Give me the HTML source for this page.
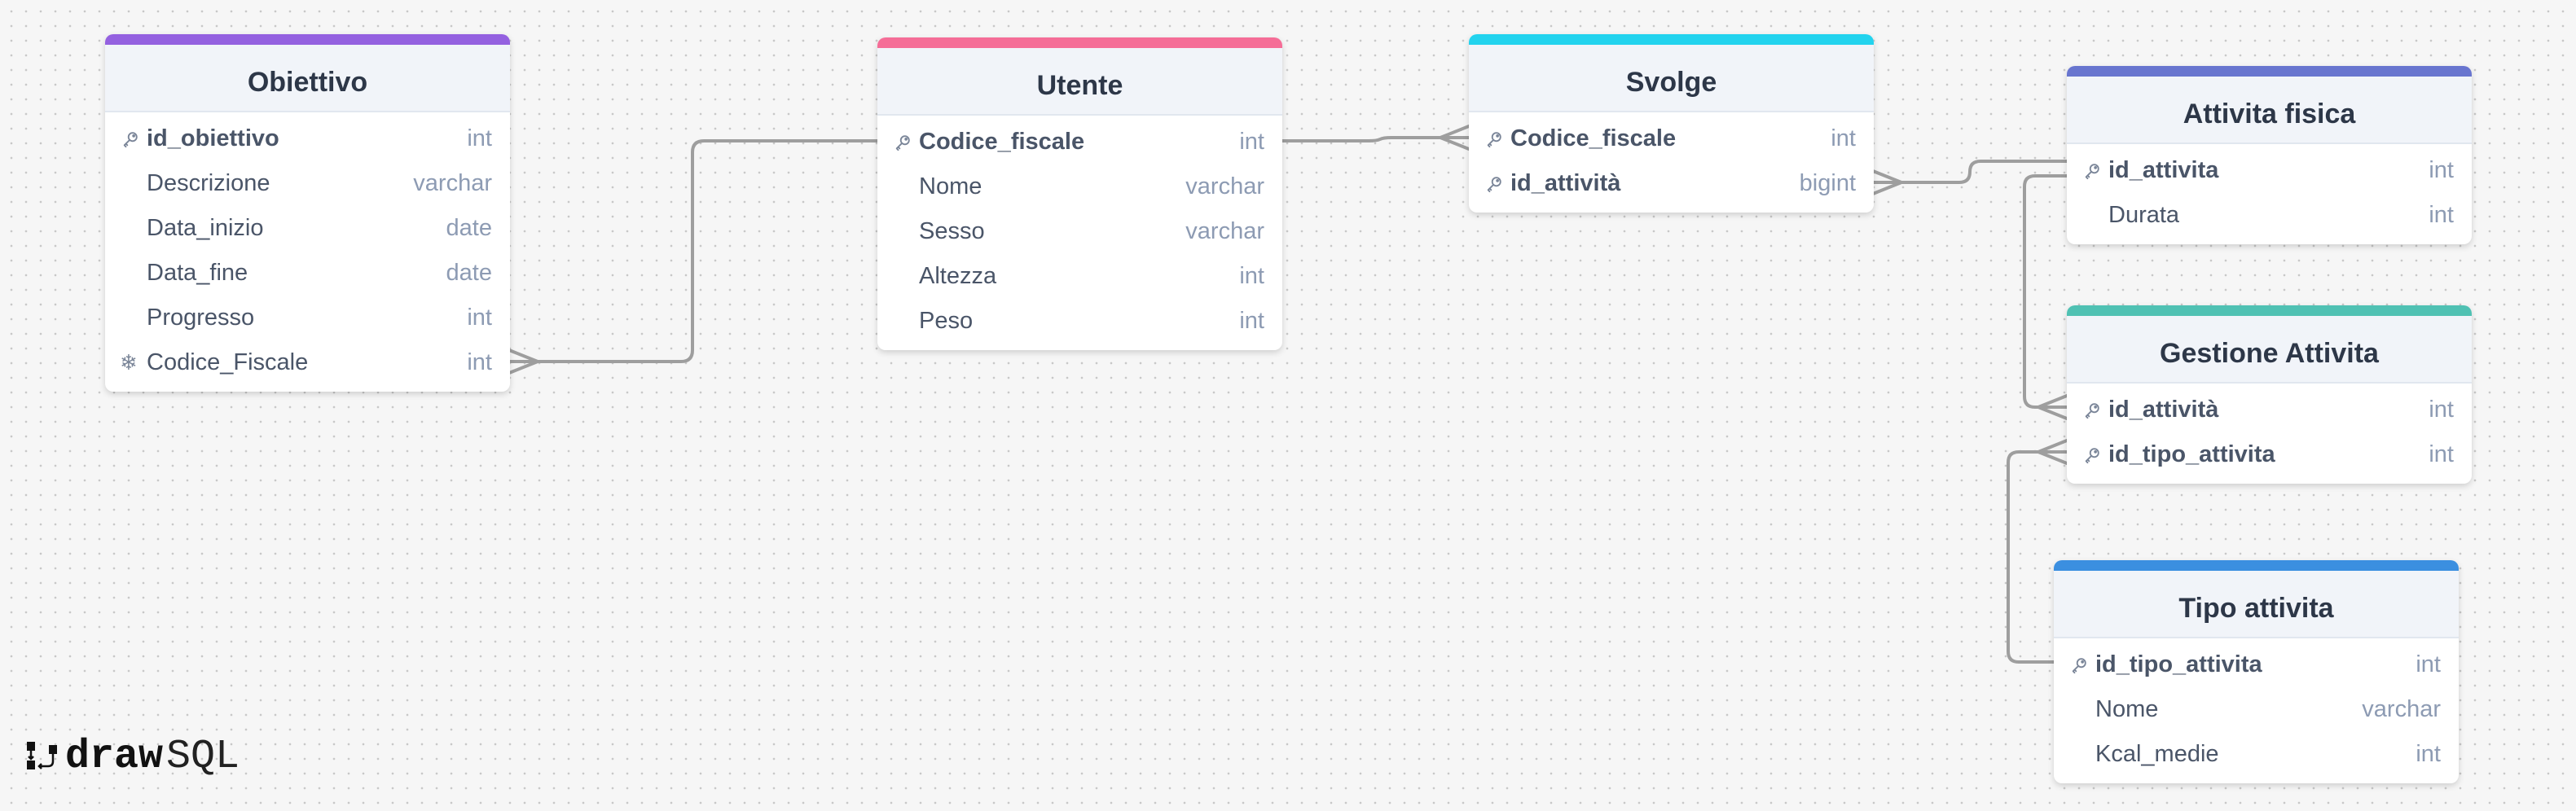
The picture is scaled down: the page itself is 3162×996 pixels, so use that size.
<!DOCTYPE html>
<html><head><meta charset="utf-8"><style>
html,body{margin:0;padding:0}
body{width:3162px;height:996px;position:relative;overflow:hidden;background-color:#f6f6f6;
background-image:radial-gradient(circle,#c8c8c8 1.2px,transparent 1.5px);background-size:18px 18px;background-position:5px 5px;
font-family:"Liberation Sans",sans-serif}
.t{position:absolute;width:497px;background:#fff;border-radius:10px;box-shadow:0 3px 8px rgba(0,0,0,.16);overflow:hidden}
.bar{height:13px}
.hd{height:81px;background:#f1f4f9;border-bottom:2px solid #e1e7ef;text-align:center;line-height:93px;font-size:34px;font-weight:bold;color:#2d3748}
.rows{padding:5px 0 8px}
.r{height:55px;line-height:55px;position:relative;font-size:29px;color:#4a5568}
.r .n{position:absolute;left:51px}
.r .n.b{font-weight:bold}
.r .ty{position:absolute;right:22px;color:#8d9bb3}
.r .ic{position:absolute;left:20px;top:17px;width:22px;height:22px}
.r .sf{position:absolute;left:18px;top:0;font-size:26px;color:#7a8598}
svg.c{position:absolute;left:0;top:0}
.logo{position:absolute;left:32px;top:905px;height:50px}
</style></head><body>
<svg class="c" width="3162" height="996" fill="none" stroke="#9e9e9e" stroke-width="4" stroke-linecap="round" stroke-linejoin="round">
<path d="M625,444 H836 Q850,444 850,430 V187 Q850,173 864,173 H1077"/>
<path d="M625,430 L660,444 L625,458"/>
<path d="M1573,173 H1680 Q1690,173 1694,171 Q1698,169 1708,169 H1803"/>
<path d="M1803,155 L1768,169 L1803,183"/>
<path d="M2299,224 H2405 Q2418,224 2418,211 Q2418,198 2431,198 H2537"/>
<path d="M2299,210 L2334,224 L2299,238"/>
<path d="M2537,216 H2498 Q2485,216 2485,229 V487 Q2485,500 2498,500 H2537"/>
<path d="M2537,486 L2502,500 L2537,514"/>
<path d="M2537,555 H2478 Q2465,555 2465,568 V800 Q2465,813 2478,813 H2521"/>
<path d="M2537,541 L2502,555 L2537,569"/>
</svg>
<svg width="0" height="0" style="position:absolute"><defs>
<symbol id="k" viewBox="0 0 24 24"><g fill="none" stroke="#7a8598" stroke-width="2" stroke-linecap="round"><circle cx="15" cy="9" r="5.5"/><path d="M11,13 L4,20 M4,20 L6,22 M6,18 L8,20"/><circle cx="16.5" cy="7.5" r="1"/></g></symbol>
</defs></svg>

<div class="t" style="left:129px;top:42px">
<div class="bar" style="background:#9461e0"></div><div class="hd">Obiettivo</div>
<div class="rows">
<div class="r"><svg class="ic"><use href="#k"/></svg><span class="n b">id_obiettivo</span><span class="ty">int</span></div>
<div class="r"><span class="n">Descrizione</span><span class="ty">varchar</span></div>
<div class="r"><span class="n">Data_inizio</span><span class="ty">date</span></div>
<div class="r"><span class="n">Data_fine</span><span class="ty">date</span></div>
<div class="r"><span class="n">Progresso</span><span class="ty">int</span></div>
<div class="r"><span class="sf">❄</span><span class="n">Codice_Fiscale</span><span class="ty">int</span></div>
</div></div>

<div class="t" style="left:1077px;top:46px">
<div class="bar" style="background:#f56d97"></div><div class="hd">Utente</div>
<div class="rows">
<div class="r"><svg class="ic"><use href="#k"/></svg><span class="n b">Codice_fiscale</span><span class="ty">int</span></div>
<div class="r"><span class="n">Nome</span><span class="ty">varchar</span></div>
<div class="r"><span class="n">Sesso</span><span class="ty">varchar</span></div>
<div class="r"><span class="n">Altezza</span><span class="ty">int</span></div>
<div class="r"><span class="n">Peso</span><span class="ty">int</span></div>
</div></div>

<div class="t" style="left:1803px;top:42px">
<div class="bar" style="background:#22d3ee"></div><div class="hd">Svolge</div>
<div class="rows">
<div class="r"><svg class="ic"><use href="#k"/></svg><span class="n b">Codice_fiscale</span><span class="ty">int</span></div>
<div class="r"><svg class="ic"><use href="#k"/></svg><span class="n b">id_attività</span><span class="ty">bigint</span></div>
</div></div>

<div class="t" style="left:2537px;top:81px">
<div class="bar" style="background:#6875cf"></div><div class="hd">Attivita fisica</div>
<div class="rows">
<div class="r"><svg class="ic"><use href="#k"/></svg><span class="n b">id_attivita</span><span class="ty">int</span></div>
<div class="r"><span class="n">Durata</span><span class="ty">int</span></div>
</div></div>

<div class="t" style="left:2537px;top:375px">
<div class="bar" style="background:#4fc1b3"></div><div class="hd">Gestione Attivita</div>
<div class="rows">
<div class="r"><svg class="ic"><use href="#k"/></svg><span class="n b">id_attività</span><span class="ty">int</span></div>
<div class="r"><svg class="ic"><use href="#k"/></svg><span class="n b">id_tipo_attivita</span><span class="ty">int</span></div>
</div></div>

<div class="t" style="left:2521px;top:688px">
<div class="bar" style="background:#3b8fe0"></div><div class="hd">Tipo attivita</div>
<div class="rows">
<div class="r"><svg class="ic"><use href="#k"/></svg><span class="n b">id_tipo_attivita</span><span class="ty">int</span></div>
<div class="r"><span class="n">Nome</span><span class="ty">varchar</span></div>
<div class="r"><span class="n">Kcal_medie</span><span class="ty">int</span></div>
</div></div>

<div class="logo">
<svg width="42" height="50" style="position:absolute;left:0;top:0" fill="#111" stroke="#111" stroke-width="2.5">
<rect x="1" y="6" width="10" height="11" stroke="none"/>
<rect x="1" y="29" width="10" height="11" stroke="none"/>
<path d="M6,17 V27 M3,24 L6,27 L9,24" fill="none"/>
<rect x="28" y="10" width="10" height="11" stroke="none"/>
<path d="M33,21 V30 Q33,36 27,36 H16 M19,33 L16,36 L19,39" fill="none"/>
</svg>
<span style="position:absolute;left:48px;top:0;font-family:'Liberation Mono',monospace;font-weight:bold;font-size:50px;color:#111;line-height:50px">draw</span><span style="position:absolute;left:172px;top:0;font-family:'Liberation Mono',monospace;font-size:50px;color:#222;line-height:50px;font-weight:normal">SQL</span>
</div>
</body></html>
